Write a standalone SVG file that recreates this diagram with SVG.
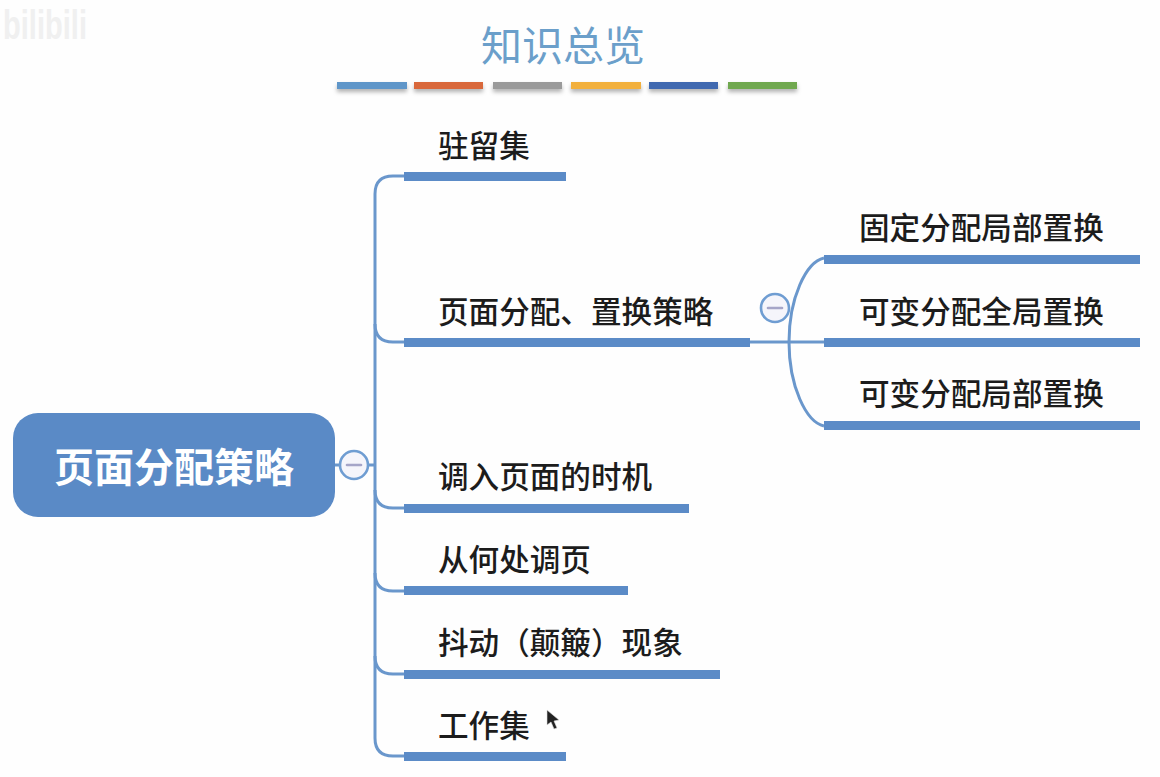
<svg xmlns="http://www.w3.org/2000/svg" width="1160" height="777" viewBox="0 0 1160 777">
  <style>
    text { font-family: "Noto Sans CJK SC", "Noto Sans", sans-serif; }
    .label { font-size: 30.6px; font-weight: 500; fill: #1c1c1c; }
    .bar { fill: #5b8bc7; }
    .link { fill: none; stroke: #6a97cc; stroke-width: 3; }
    .toggle { fill: #f5f5fb; stroke: #6f9dd2; stroke-width: 2.6; }
    .dash { stroke: #a5a5c8; stroke-width: 2.6; stroke-linecap: round; }
  </style>
  <defs>
    <filter id="lift" x="-10%" y="-100%" width="120%" height="350%">
      <feDropShadow dx="0" dy="3" stdDeviation="2" flood-color="#000" flood-opacity="0.3"/>
    </filter>
  </defs>
  <rect width="1160" height="777" fill="#fefefe"/>

  <!-- corner logo -->
  <text id="logo" x="3" y="39" font-size="40" font-weight="700" fill="#f0f0f0" textLength="84" lengthAdjust="spacingAndGlyphs" style="font-family:'Liberation Sans',sans-serif">bilibili</text>

  <!-- heading and colour strip -->
  <g id="heading">
    <text x="563" y="61" text-anchor="middle" font-size="41" fill="#6b9fca" style="font-family:'Noto Sans CJK SC',sans-serif">知识总览</text>
    <g filter="url(#lift)">
      <rect x="337" y="82" width="70" height="7" fill="#5f96c9"/>
      <rect x="414" y="82" width="69" height="7" fill="#d9683a"/>
      <rect x="493" y="82" width="69" height="7" fill="#9a9a9a"/>
      <rect x="571" y="82" width="70" height="7" fill="#f2b03c"/>
      <rect x="649" y="82" width="69" height="7" fill="#4169b0"/>
      <rect x="728" y="82" width="69" height="7" fill="#70a850"/>
    </g>
  </g>

  <!-- connectors -->
  <g id="connectors">
    <path class="link" d="M335 465H375"/>
    <path class="link" d="M404 176H393Q375 176 375 194V738Q375 756 393 756H404"/>
    <path class="link" d="M375 324Q375 342 393 342H404"/>
    <path class="link" d="M375 490Q375 508 393 508H404"/>
    <path class="link" d="M375 573Q375 591 393 591H404"/>
    <path class="link" d="M375 656Q375 674 393 674H404"/>
    <path class="link" d="M750 342H824"/>
    <path class="link" d="M824 258C806 262 789 298 789 342C789 386 806 422 824 426"/>
  </g>

  <!-- root -->
  <g id="root">
    <rect x="13" y="413" width="322" height="104" rx="25" fill="#5a8ac6"/>
    <text x="174" y="482" text-anchor="middle" font-size="40" font-weight="700" fill="#fff">页面分配策略</text>
  </g>
  <g id="root-toggle">
    <circle class="toggle" cx="354" cy="465" r="14"/>
    <path class="dash" d="M347 465H361"/>
  </g>

  <!-- first-level topics -->
  <g id="topic-resident-set">
    <text class="label" x="438" y="156.500">驻留集</text>
    <rect class="bar" x="404" y="172" width="162" height="9"/>
  </g>
  <g id="topic-allocation">
    <text class="label" x="438" y="323">页面分配、置换策略</text>
    <rect class="bar" x="404" y="338" width="346" height="9"/>
  </g>
  <g id="allocation-toggle">
    <circle class="toggle" cx="775" cy="308" r="14"/>
    <path class="dash" d="M768 308H782"/>
  </g>
  <g id="topic-timing">
    <text class="label" x="438" y="488">调入页面的时机</text>
    <rect class="bar" x="404" y="504" width="285" height="9"/>
  </g>
  <g id="topic-source">
    <text class="label" x="438" y="571">从何处调页</text>
    <rect class="bar" x="404" y="586" width="224" height="9"/>
  </g>
  <g id="topic-thrashing">
    <text class="label" x="438" y="654">抖动（颠簸）现象</text>
    <rect class="bar" x="404" y="670" width="316" height="9"/>
  </g>
  <g id="topic-working-set">
    <text class="label" x="438" y="737">工作集</text>
    <rect class="bar" x="404" y="752" width="162" height="9"/>
  </g>

  <!-- second-level topics -->
  <g id="sub-fixed-local">
    <text class="label" x="859" y="239">固定分配局部置换</text>
    <rect class="bar" x="824" y="255" width="316" height="9"/>
  </g>
  <g id="sub-variable-global">
    <text class="label" x="859" y="323">可变分配全局置换</text>
    <rect class="bar" x="824" y="338" width="316" height="9"/>
  </g>
  <g id="sub-variable-local">
    <text class="label" x="859" y="405">可变分配局部置换</text>
    <rect class="bar" x="824" y="421" width="316" height="9"/>
  </g>

  <!-- pointer -->
  <path id="pointer" d="M547 710L547 725L551 722L554 729L557 728L554 721L559 720Z" fill="#222" stroke="#ddd" stroke-width="0.6"/>
</svg>
